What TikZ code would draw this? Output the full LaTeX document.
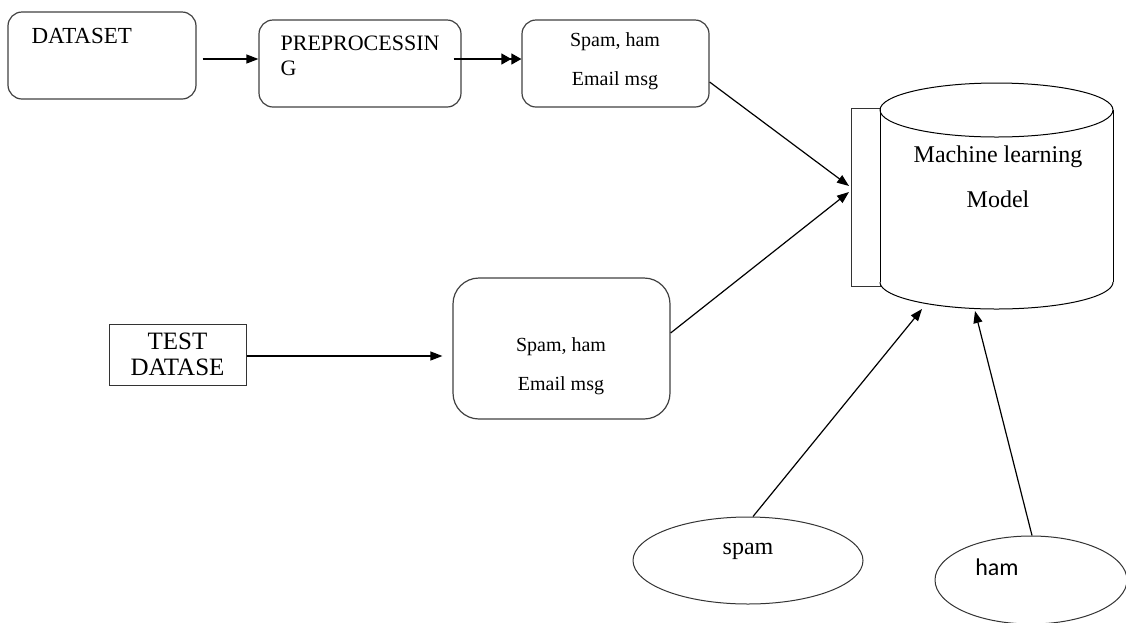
\documentclass[tikz,border=0pt]{standalone}
\usepackage{fontspec}
\setmainfont{Liberation Serif}
\newfontfamily\calib{Carlito}
\usetikzlibrary{arrows.meta,shapes.geometric}
\begin{document}
\begin{tikzpicture}[x=1pt,y=-1pt,
  line width=1.2pt,
  rbox/.style={draw=black!75,rounded corners=14pt,inner sep=0pt},
  sbox/.style={draw=black!80,inner sep=0pt,line width=1pt},
  arr/.style={-{Triangle[length=12pt,width=9pt]}},
  darr/.style={-{Triangle[length=10pt,width=11pt]Triangle[length=10pt,width=11pt]}},
  txt/.style={inner sep=0pt,anchor=base},
  ell/.style={draw=black!80,ellipse,inner sep=0pt,line width=1pt}]
\useasboundingbox (0,0) rectangle (1126,622);
% top row
\node[rbox,minimum width=188pt,minimum height=87pt] (dataset) at (102,55.5) {};
\node[txt,anchor=base west,font=\fontsize{23}{26}\selectfont] (dstxt) at (31,43) {DATASET};
\node[rbox,minimum width=202pt,minimum height=87pt] (prep) at (360,63.5) {};
\node[txt,anchor=base west,font=\fontsize{22}{24}\selectfont] (preptxt1) at (280,50) {PREPROCESSIN};
\node[txt,anchor=base west,font=\fontsize{22}{24}\selectfont] (preptxt2) at (280,75) {G};
\node[rbox,minimum width=187pt,minimum height=87pt] (box1) at (615.5,63.5) {};
\node[txt,font=\fontsize{20}{22}\selectfont] (b1a) at (615,46) {Spam, ham};
\node[txt,font=\fontsize{20}{22}\selectfont] (b1b) at (615,85) {Email msg};
% model cylinder
\node[sbox,minimum width=29pt,minimum height=178pt] (plate) at (865.5,197) {};
\node[inner sep=0pt,minimum width=233pt,minimum height=226pt] (model) at (996.5,196) {};
\fill[white] (880,110) rectangle (1113,282);
\fill[white] (996.5,282) ellipse [x radius=116.5, y radius=27];
\draw[line width=1pt] (996.5,110) ellipse [x radius=116.5, y radius=27];
\draw[line width=1pt] (880,110) -- (880,282);
\draw[line width=1pt] (1113,110) -- (1113,282);
\draw[line width=1pt] plot[domain=0:180,samples=80,smooth] ({996.5+116.5*cos(\x)},{282+27*sin(\x)});
\node[txt,font=\fontsize{24}{26}\selectfont] (m1) at (998,162) {Machine learning};
\node[txt,font=\fontsize{24}{26}\selectfont] (m2) at (998,207) {Model};
% middle row
\node[sbox,minimum width=137pt,minimum height=61pt,align=center,font=\fontsize{25}{28}\selectfont] (test) at (177.5,354.5) {TEST\\[-2pt]DATASE};
\node[rbox,minimum width=217pt,minimum height=141pt,rounded corners=26pt] (box2) at (561.5,348.5) {};
\node[txt,font=\fontsize{20}{22}\selectfont] (b2a) at (561,351) {Spam, ham};
\node[txt,font=\fontsize{20}{22}\selectfont] (b2b) at (561,390) {Email msg};
% ellipses
\node[ell,minimum width=230pt,minimum height=87pt] (spam) at (748,560.5) {};
\node[txt,font=\fontsize{24}{26}\selectfont] (spamtxt) at (748,554) {spam};
\node[ell,minimum width=192pt,minimum height=88pt] (ham) at (1031,580) {};
\node[txt,font=\calib\fontsize{24}{26}\selectfont] (hamtxt) at (997,575) {ham};
% tips
\coordinate (t1) at (849,186);
\coordinate (t2) at (849,192);
\coordinate (t3) at (922,309);
\coordinate (t4) at (975,311);
% connectors
\draw[arr] ([xshift=6pt,yshift=-3.5pt]dataset.east) -- ([yshift=4.5pt]prep.west);
\draw[darr] ([xshift=-8pt,yshift=4.5pt]prep.east) -- ([yshift=4.5pt]box1.west);
\draw[arr] ([yshift=-18.5pt]box1.east) -- (t1);
\draw[arr] ([yshift=15.5pt]box2.east) -- (t2);
\draw[arr] ([yshift=-1.5pt]test.east) -- ([xshift=-10pt,yshift=-7.5pt]box2.west);
\draw[arr] ([xshift=5pt]spam.north) -- (t3);
\draw[arr] ([xshift=1pt]ham.north) -- (t4);
\end{tikzpicture}
\end{document}
